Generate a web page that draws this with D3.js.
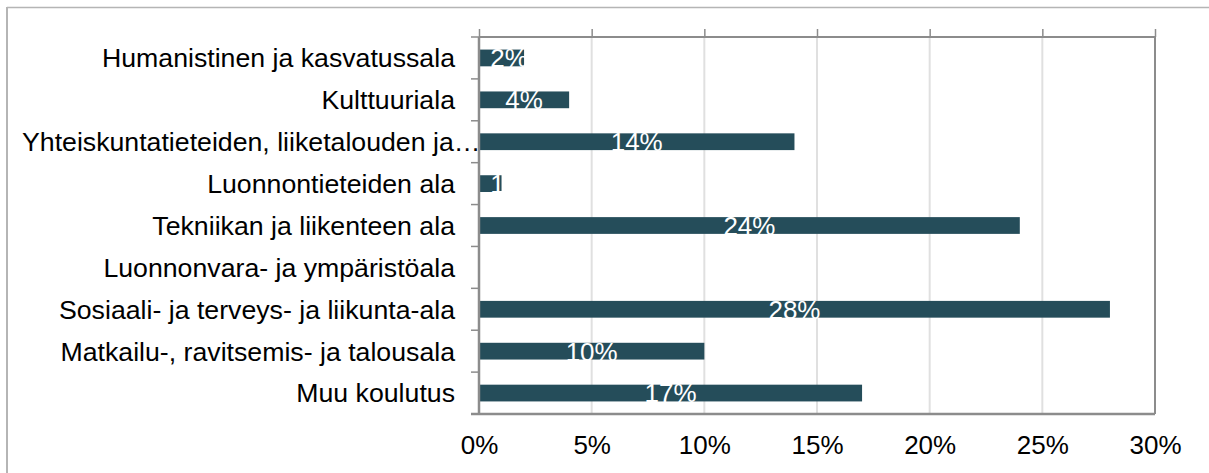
<!DOCTYPE html>
<html>
<head>
<meta charset="utf-8">
<script src="https://cdn.jsdelivr.net/npm/d3@7"></script>
<style>
  body { margin: 0; background: #fff; }
  text { font-family: "Liberation Sans", Arial, sans-serif; }
</style>
</head>
<body>
<svg id="chart" width="1209" height="473"></svg>
<script>
//chart data
var categories = [
    "Humanistinen ja kasvatussala",
    "Kulttuuriala",
    "Yhteiskuntatieteiden, liiketalouden ja…",
    "Luonnontieteiden ala",
    "Tekniikan ja liikenteen ala",
    "Luonnonvara- ja ympäristöala",
    "Sosiaali- ja terveys- ja liikunta-ala",
    "Matkailu-, ravitsemis- ja talousala",
    "Muu koulutus"
];
var values = [2, 4, 14, 1, 24, 0, 28, 10, 17];
var xTicks = [0, 5, 10, 15, 20, 25, 30];

var svg = d3.select("#chart");
var margin = {left: 479, right: 54, top: 37, bottom: 59};
var width = 1209 - margin.left - margin.right;
var height = 473 - margin.top - margin.bottom;
var axisColor = "#8c8c8c";

//outer chart border (only top and left visible)
svg.append("line").attr("x1", 7).attr("x2", 1209).attr("y1", 7.5).attr("y2", 7.5)
    .attr("stroke", "#b5b5b5").attr("stroke-width", 1.5);
svg.append("line").attr("x1", 7).attr("x2", 7).attr("y1", 7).attr("y2", 473)
    .attr("stroke", "#b5b5b5").attr("stroke-width", 2);

var g = svg.append("g")
    .attr("transform", "translate(" + margin.left + "," + margin.top + ")");

//scales
var x = d3.scaleLinear().domain([0, 30]).range([0, width]);
var y = d3.scaleBand().domain(categories).range([0, height]).paddingInner(0.6).paddingOuter(0.3);

//gridlines
g.selectAll(".grid").data(xTicks.slice(1, -1)).enter()
    .append("line")
    .attr("class", "grid")
    .attr("x1", function(d) { return x(d); })
    .attr("x2", function(d) { return x(d); })
    .attr("y1", 0).attr("y2", height)
    .attr("stroke", "#e0e0e0").attr("stroke-width", 2);

//bars
g.selectAll(".bar").data(values).enter()
    .append("rect")
    .attr("class", "bar")
    .attr("x", 0)
    .attr("y", function(d, i) { return y(categories[i]); })
    .attr("width", function(d) { return x(d); })
    .attr("height", y.bandwidth())
    .attr("fill", "#254d5a");

//data labels (white, centred on bar)
g.selectAll(".lbl").data(values).enter()
    .filter(function(d) { return d > 0; })
    .append("text")
    .attr("class", "lbl")
    .attr("x", function(d) { return Math.max(x(d) / 2, x(0) + 30); })
    .attr("y", function(d) { return y(categories[values.indexOf(d)]) + y.bandwidth() + 1; })
    .attr("text-anchor", "middle")
    .attr("fill", "#fff")
    .style("font-size", "26px")
    .text(function(d) { return d + "%"; });

//top axis with upward ticks, no labels
var topAxis = g.append("g")
    .call(d3.axisTop(x).tickValues(xTicks).tickSize(8).tickFormat(""));
topAxis.select(".domain").remove();
topAxis.selectAll("line").attr("stroke", axisColor).attr("stroke-width", 1.5);

//bottom tick labels
var bottomAxis = g.append("g")
    .attr("transform", "translate(0," + height + ")")
    .call(d3.axisBottom(x).tickValues(xTicks).tickSize(0).tickPadding(22)
        .tickFormat(function(d) { return d + "%"; }));
bottomAxis.select(".domain").remove();
bottomAxis.selectAll("text")
    .attr("fill", "#000")
    .style("font-size", "26px")
    .style("font-family", "'Liberation Sans', Arial, sans-serif");

//category boundary ticks on the left axis
var step = height / categories.length;
g.selectAll(".ctick").data(d3.range(categories.length + 1)).enter()
    .append("line")
    .attr("x1", -8).attr("x2", 0)
    .attr("y1", function(d) { return d * step; })
    .attr("y2", function(d) { return d * step; })
    .attr("stroke", axisColor).attr("stroke-width", 1.5);

//category labels
g.selectAll(".cat").data(categories).enter()
    .append("text")
    .attr("class", "cat")
    .attr("x", -24)
    .attr("y", function(d) { return y(d) + y.bandwidth() / 2; })
    .attr("dy", "0.35em")
    .attr("text-anchor", "end")
    .attr("fill", "#000")
    .style("font-size", "26.7px")
    .text(function(d) { return d; })
    .each(function() {
        //long labels start at the chart edge like the original
        var w = this.getComputedTextLength();
        if (w > margin.left - 24 - 22) {
            d3.select(this).attr("text-anchor", "start").attr("x", 22 - margin.left);
        }
    });

//plot frame
g.append("line").attr("x1", 0).attr("x2", width).attr("y1", 0).attr("y2", 0)
    .attr("stroke", axisColor).attr("stroke-width", 2);
g.append("line").attr("x1", width).attr("x2", width).attr("y1", 0).attr("y2", height)
    .attr("stroke", axisColor).attr("stroke-width", 2);
g.append("line").attr("x1", 0).attr("x2", 0).attr("y1", 0).attr("y2", height)
    .attr("stroke", axisColor).attr("stroke-width", 2.5);
g.append("line").attr("x1", -8).attr("x2", width).attr("y1", height).attr("y2", height)
    .attr("stroke", axisColor).attr("stroke-width", 2.5);
</script>
</body>
</html>
